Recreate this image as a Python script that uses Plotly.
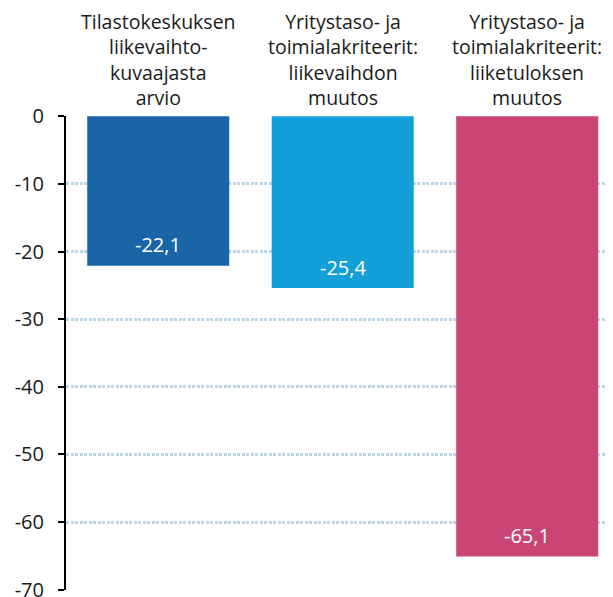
import plotly.graph_objects as go

categories = [
    "Tilastokeskuksen<br>liikevaihto-<br>kuvaajasta<br>arvio",
    "Yritystaso- ja<br>toimialakriteerit:<br>liikevaihdon<br>muutos",
    "Yritystaso- ja<br>toimialakriteerit:<br>liiketuloksen<br>muutos",
]
values = [-22.1, -25.4, -65.1]
colours = ["#1a64a8", "#159fd9", "#cb4574"]
y_ticks = [0, -10, -20, -30, -40, -50, -60, -70]

fig = go.Figure()

fig.add_trace(
    go.Bar(
        x=[0, 1, 2],
        y=values,
        width=0.77,
        marker=dict(color=colours, line=dict(width=0)),
        hoverinfo="skip",
    )
)

# value labels inside the bars, a bit above the bar end
for i, v in enumerate(values):
    fig.add_annotation(
        x=i, y=v, yshift=21,
        text=f"{v:.1f}".replace(".", ","),
        showarrow=False,
        font=dict(color="white", size=20),
    )

# category headings above the plot
for i, c in enumerate(categories):
    fig.add_annotation(
        x=i, y=1, yref="paper", yanchor="bottom", yshift=3,
        text=c,
        showarrow=False,
        font=dict(color="#1a1a1a", size=19.5),
    )

fig.update_xaxes(
    range=[-0.5, 2.465],
    showticklabels=False,
    showgrid=False,
    zeroline=False,
)
fig.update_yaxes(
    range=[-70.05, 0.05],
    tickvals=y_ticks,
    ticktext=[str(t) for t in y_ticks],  # plain hyphen, not unicode minus
    ticks="outside",
    ticklen=6,
    tickwidth=2,
    tickcolor="black",
    ticklabelstandoff=10,
    showline=True,
    linecolor="black",
    linewidth=2,
    showgrid=True,
    gridcolor="#bcd6e5",
    gridwidth=2.5,
    griddash="3px,1.5px",
    zeroline=False,
    automargin=False,
    tickfont=dict(size=20, color="#1a1a1a"),
)
# page has an 8px body margin, so offsets are 8px smaller than the target
fig.update_layout(
    width=613,
    height=597,
    margin=dict(l=58, r=8, t=108, b=15),
    plot_bgcolor="white",
    paper_bgcolor="white",
    showlegend=False,
    separators=", ",
    font=dict(family="Open Sans, sans-serif"),
)

fig.write_html("out.html")
